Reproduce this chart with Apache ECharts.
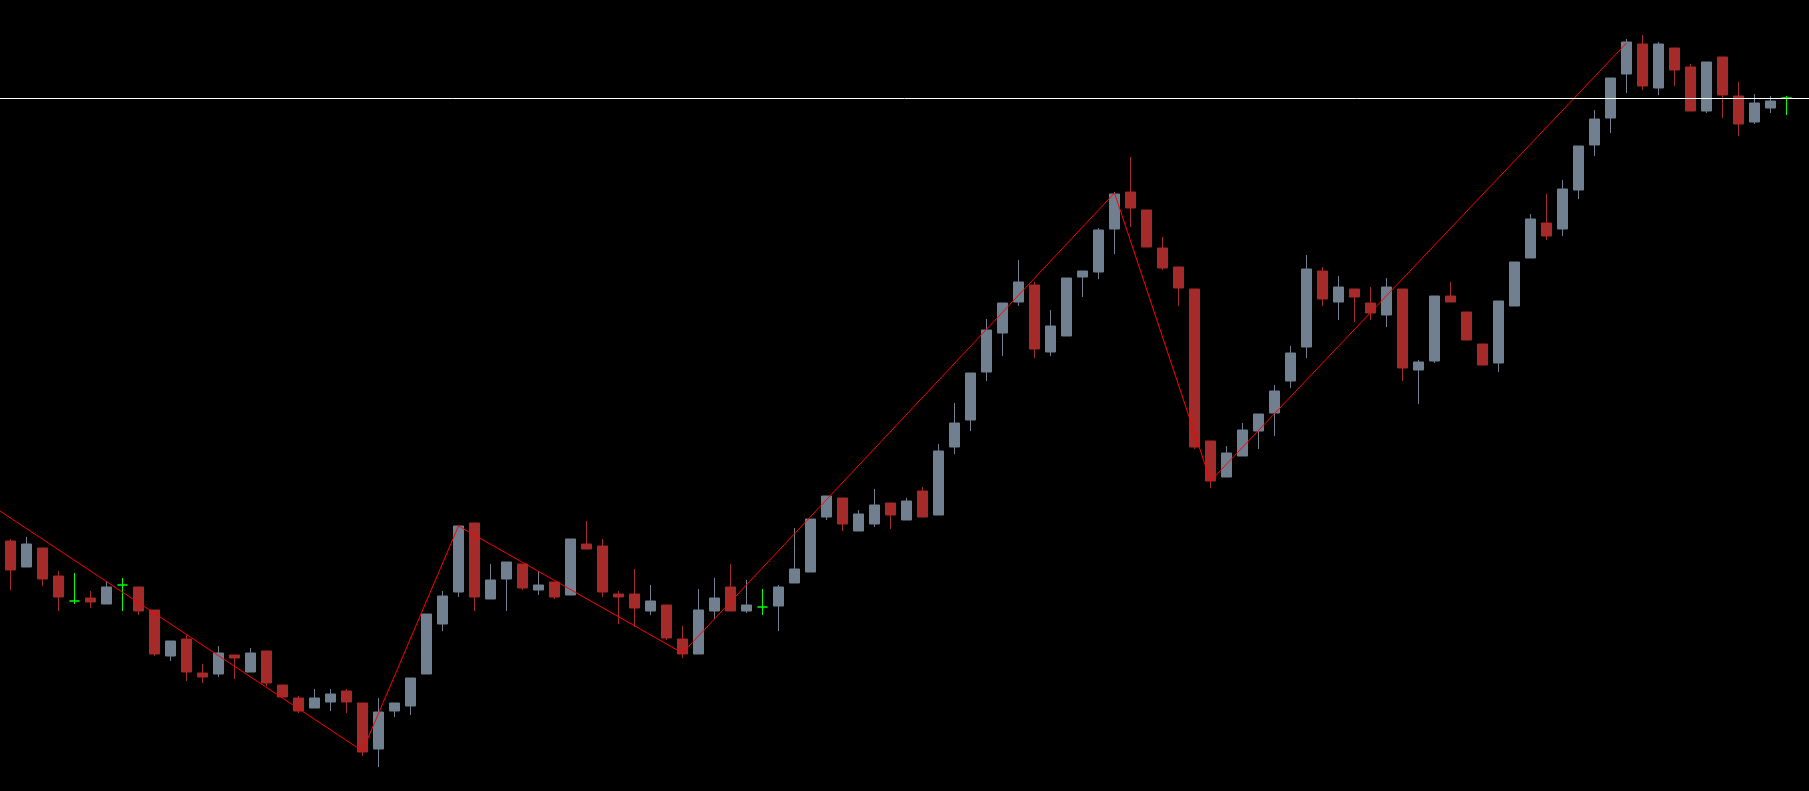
<!DOCTYPE html>
<html>
<head>
<meta charset="utf-8">
<title>candles</title>
<script src="https://cdn.jsdelivr.net/npm/echarts@6/dist/echarts.min.js"></script>
<style>
	html, body { margin: 0; padding: 0; background: #000; }
	#chart { width: 1809px; height: 791px; }
</style>
</head>
<body>
<div id="chart"></div>
<script>
var opens = [259,233,252,224,199,202,196,215,213,190,144,161,127,126,145,128,149,115,102,92,
	98,109,97,51,89,94,126,176,208,277,201,221,236,210,218,205,256,254,206,206,
	189,195,161,146,189,213,189,193,194,217,228,283,302,269,276,297,280,309,285,353,
	380,428,467,498,515,448,464,523,528,571,608,590,552,533,511,359,323,344,369,387,
	419,453,529,498,511,497,485,511,430,439,504,488,456,437,494,542,577,571,610,655,
	682,726,756,712,752,733,689,743,704,678,692,702];
var closes = [230,256,221,203,199,198,213,215,189,146,159,128,123,147,142,147,117,103,89,102,
	106,98,48,88,97,122,186,204,274,203,220,238,212,215,203,261,251,208,203,192,
	199,162,146,190,202,189,195,193,213,231,281,304,276,286,295,285,299,283,349,377,
	427,470,497,518,451,474,522,529,570,606,592,553,532,512,353,319,347,370,386,409,
	447,531,501,513,503,487,513,432,438,504,498,460,435,499,538,581,564,611,654,681,
	722,758,714,756,730,689,738,705,676,697,699,702];
var lows = [210,233,214,189,196,192,196,189,185,144,139,119,117,123,121,128,114,103,87,92,
	89,87,44,33,83,85,126,169,203,189,201,189,210,205,201,205,251,203,176,173,
	185,160,142,146,181,189,187,185,169,217,228,280,269,269,273,271,280,283,285,346,
	369,419,444,494,442,444,464,503,521,546,573,553,530,494,351,312,323,344,351,364,
	412,442,494,480,478,480,473,419,396,437,498,460,435,428,494,542,560,564,601,644,
	667,707,710,705,714,689,687,682,664,676,687,685];
var highs = [261,263,252,229,227,209,219,222,213,190,159,165,136,154,145,152,149,115,104,111,
	111,111,97,102,97,122,186,209,274,277,236,238,236,229,218,261,279,261,209,231,
	215,195,174,211,222,236,220,211,215,272,281,304,302,290,311,297,302,313,356,397,
	427,481,497,540,518,490,522,529,572,608,643,590,563,533,511,359,354,377,386,415,
	454,545,533,524,511,513,522,511,440,504,518,488,456,499,538,586,606,620,654,690,
	722,761,765,758,752,736,738,743,718,706,704,704];

// zigzag turning points: bar index, price
var zigzagIdx = [-0.656, 22, 28, 42, 69, 75, 101];
var zigzagPrice = [289, 49, 274, 147, 607, 319, 757];

var levelPrice = 702;

var upColor = '#708090';
var downColor = '#a52a2a';
var dojiColor = '#00ff00';

var candleData = opens.map(function (o, i) {
	var v = [i, o, closes[i], lows[i], highs[i]];
	if (o === closes[i]) {
		return {
			value: v,
			itemStyle: { color: dojiColor, color0: dojiColor, borderColor: dojiColor, borderColor0: dojiColor }
		};
	}
	return v;
});

var zigzagData = zigzagIdx.map(function (x, i) {
	return [x, zigzagPrice[i]];
});

var myChart = echarts.init(document.getElementById('chart'));
myChart.setOption({
	backgroundColor: '#000000',
	animation: false,
	grid: { left: 0, right: 0, top: 0, bottom: 0 },
	xAxis: {
		type: 'value',
		min: -0.656,
		max: 112.406,
		show: false
	},
	yAxis: {
		type: 'value',
		min: 9,
		max: 800,
		show: false
	},
	series: [{
		type: 'candlestick',
		barWidth: 10,
		itemStyle: {
			color: upColor,
			color0: downColor,
			borderColor: upColor,
			borderColor0: downColor,
			borderColorDoji: dojiColor,
			borderWidth: 1
		},
		markLine: {
			silent: true,
			symbol: ['none', 'none'],
			label: { show: false },
			lineStyle: { color: '#ffffff', width: 1, type: 'solid' },
			data: [{ yAxis: levelPrice }]
		},
		data: candleData
	}, {
		type: 'line',
		symbol: 'none',
		clip: false,
		lineStyle: { color: '#ff0000', width: 1 },
		data: zigzagData
	}]
});
</script>
</body>
</html>
